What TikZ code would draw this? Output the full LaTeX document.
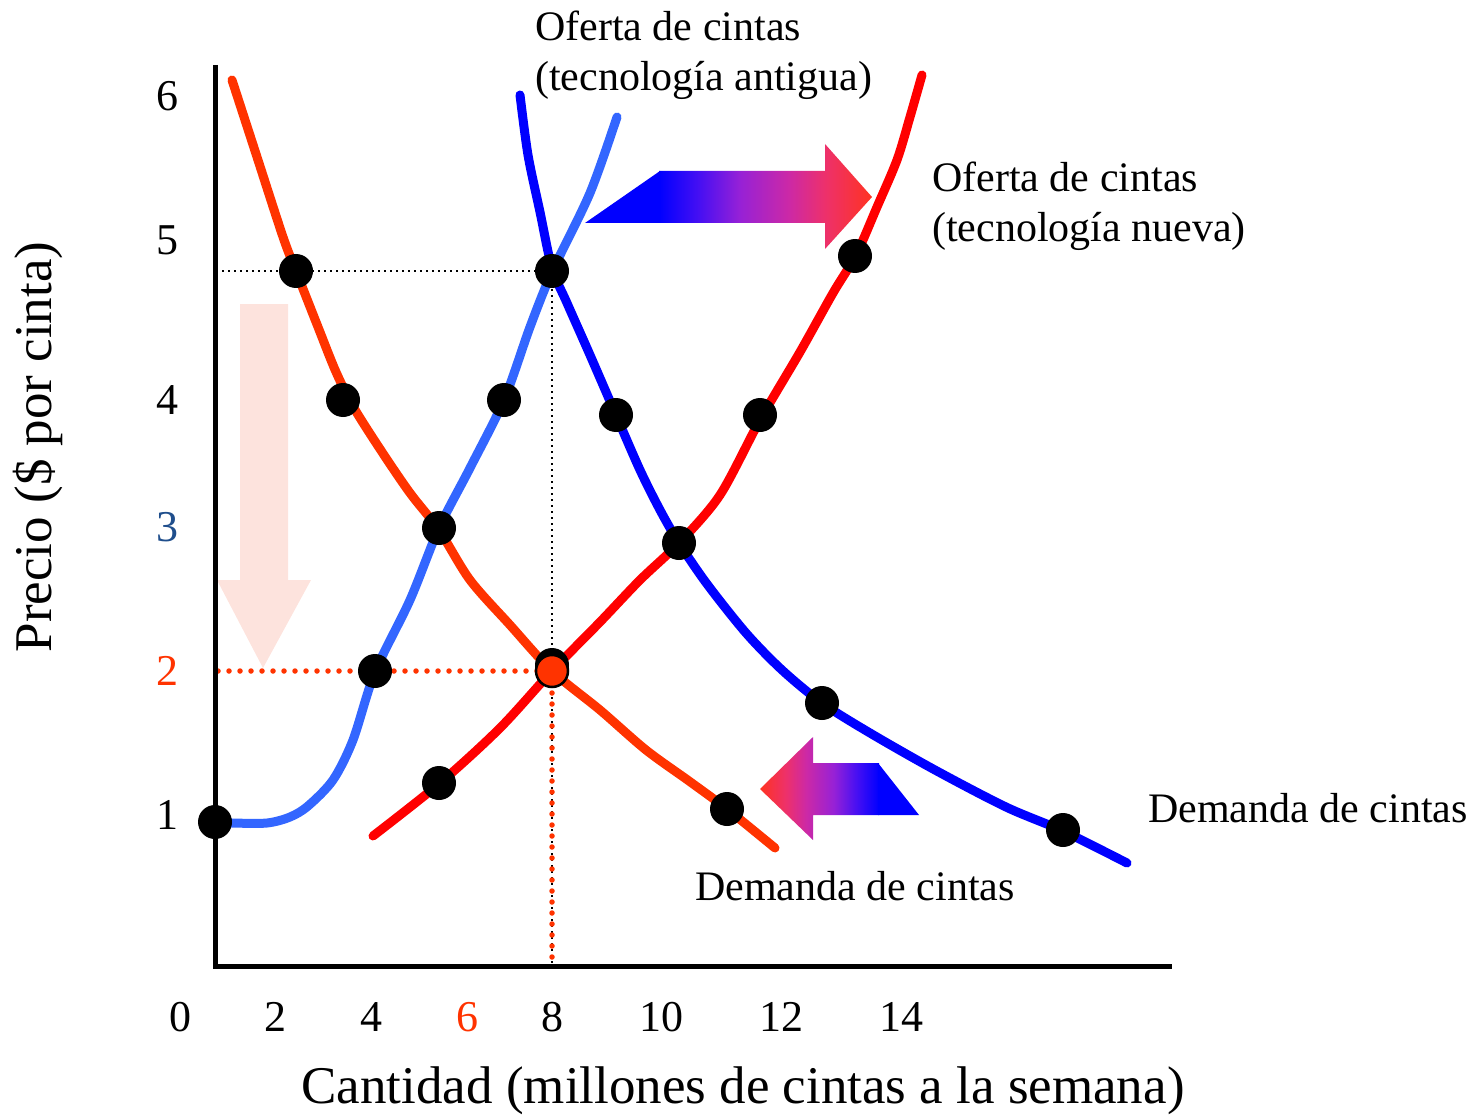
\documentclass[tikz,border=0pt]{standalone}
\usepackage{fontspec}
\setmainfont{Liberation Serif}
\definecolor{dorange}{HTML}{FF3300}
\definecolor{sred}{HTML}{FF0000}
\definecolor{lblue}{HTML}{3366FF}
\definecolor{dblue}{HTML}{0000FF}
\definecolor{pinkarrow}{HTML}{FDE3DD}
\definecolor{tickblue}{HTML}{1F4E8C}
\pgfdeclarehorizontalshading{arrgrad}{100bp}{rgb(0bp)=(0,0,1); rgb(25bp)=(0,0,1); rgb(34.5bp)=(0.28,0.06,0.95); rgb(44bp)=(0.59,0.13,0.84); rgb(55.5bp)=(0.8,0.16,0.65); rgb(64bp)=(0.93,0.19,0.42); rgb(75bp)=(1,0.2,0.13); rgb(100bp)=(1,0.2,0.13)}
\begin{document}
\begin{tikzpicture}[x=1pt,y=-1pt,
  curve/.style={line width=9pt,line cap=round,line join=round},
  ptdot/.style={circle,fill=black,inner sep=0pt,minimum size=34pt},
  blackdots/.style={line width=2pt,dash pattern=on 2pt off 4pt},
  orangedots/.style={dorange,line width=5.5pt,line cap=round,dash pattern=on 0pt off 11pt},
  lbl/.style={font=\fontsize{42}{50}\selectfont,inner sep=0pt,align=left},
  tick/.style={font=\fontsize{44}{50}\selectfont,inner sep=0pt},
  title/.style={font=\fontsize{53}{60}\selectfont,inner sep=0pt}]
\useasboundingbox (0,0) rectangle (1480,1115);

% pink arrow
\fill[pinkarrow] (240,304) -- (288,304) -- (288,580) -- (311,580) -- (263,668) -- (217,580) -- (240,580) -- cycle;

% dotted guide lines
\coordinate (hA) at (222,271);
\coordinate (hB) at (552,271);
\coordinate (vB) at (552,966);
\coordinate (oA) at (218,671);
\coordinate (oB) at (552,671);
\draw[blackdots] (hA) -- (hB) -- (vB);
\draw[orangedots] (oA) -- (oB);
\draw[orangedots] (oB) -- (vB);

% axes
\coordinate (origin) at (215,966);
\coordinate (ytop) at (215,65);
\coordinate (xend) at (1172,966);
\draw[line width=5pt] (ytop) -- (origin) -- (xend);

% old demand (orange)
\draw[curve,dorange] plot[smooth,tension=0.5] coordinates {(232,80) (257,157) (283,237) (296,271) (318,327) (336,372) (354,408) (382,452) (410,493) (439,530) (470,580) (510,625) (552,671) (600,710) (646,750) (689,781) (727,809) (775,848)};

% new demand (blue)
\draw[curve,dblue] plot[smooth,tension=0.5] coordinates {(520,95) (528,155) (540,212) (552,268) (567,303) (590,355) (616,415) (640,470) (660,510) (679,543) (707,584) (746,633) (782,670) (822,703) (870,733) (935,770) (1006,807) (1063,831) (1127,863)};

% old supply (light blue)
\draw[curve,lblue] plot[smooth,tension=0.5] coordinates {(217,822) (232,823) (267,823) (290,817) (308,806) (333,780) (353,740) (375,672) (410,600) (439,528) (470,468) (504,400) (530,327) (552,272) (590,193) (617,117)};

% new supply (red)
\draw[curve,sred] plot[smooth,tension=0.5] coordinates {(373,836) (440,783) (500,728) (552,671) (600,622) (640,580) (679,543) (720,495) (760,420) (800,352) (833,293) (856,255) (877,207) (897,160) (910,117) (922,75)};

% gradient arrows
\shade[shading=arrgrad] (659,171) -- (825,171) -- (825,144) -- (872,197) -- (825,249) -- (825,223) -- (659,223) -- cycle;
\fill[dblue] (585,223) -- (660,171) -- (660,223) -- cycle;
\shade[shading=arrgrad,shading angle=180] (760,789) -- (813,737) -- (813,763) -- (879,763) -- (879,815) -- (813,815) -- (813,840) -- cycle;
\fill[dblue] (878,763) -- (919,815) -- (878,815) -- cycle;

% points
\node[ptdot] (p1) at (215,822) {};
\node[ptdot] (p2) at (296,271) {};
\node[ptdot] (p3) at (552,271) {};
\node[ptdot] (p4) at (343,400) {};
\node[ptdot] (p5) at (504,400) {};
\node[ptdot] (p6) at (616,415) {};
\node[ptdot] (p7) at (760,415) {};
\node[ptdot] (p8) at (855,256) {};
\node[ptdot] (p9) at (439,528) {};
\node[ptdot] (p10) at (679,543) {};
\node[ptdot] (p11) at (375,671) {};
\node[ptdot] (p12) at (552,665) {};
\node[ptdot] (p13) at (439,783) {};
\node[ptdot] (p14) at (727,809) {};
\node[ptdot] (p15) at (822,703) {};
\node[ptdot] (p16) at (1063,830) {};
\node[circle,fill=dorange,draw=black,line width=2.5pt,inner sep=0pt,minimum size=32pt] (eq) at (552,671) {};

% curve labels
\node[lbl,anchor=base west] (l1) at (535,91) {Oferta de cintas\\(tecnología antigua)};
\node[lbl,anchor=base west] (l2) at (932,242) {Oferta de cintas\\(tecnología nueva)};
\node[lbl,anchor=base west] (l3) at (1148,822) {Demanda de cintas};
\node[lbl,anchor=base west] (l4) at (695,900) {Demanda de cintas};

% y ticks
\node[tick] (y6) at (167,96) {6};
\node[tick] (y5) at (167,240) {5};
\node[tick] (y4) at (167,400) {4};
\node[tick,text=tickblue] (y3) at (167,527) {3};
\node[tick,text=dorange] (y2) at (167,671) {2};
\node[tick] (y1) at (167,815) {1};

% x ticks
\node[tick] (x0) at (180,1017) {0};
\node[tick] (x2) at (275,1017) {2};
\node[tick] (x4) at (371,1017) {4};
\node[tick,text=dorange] (x6) at (467,1017) {6};
\node[tick] (x8) at (552,1017) {8};
\node[tick] (x10) at (661,1017) {10};
\node[tick] (x12) at (781,1017) {12};
\node[tick] (x14) at (901,1017) {14};

% axis titles
\node[title,anchor=base] (xt) at (743,1103) {Cantidad (millones de cintas a la semana)};
\node[title,anchor=base,rotate=90] (yt) at (51,447) {Precio (\$ por cinta)};
\end{tikzpicture}
\end{document}
